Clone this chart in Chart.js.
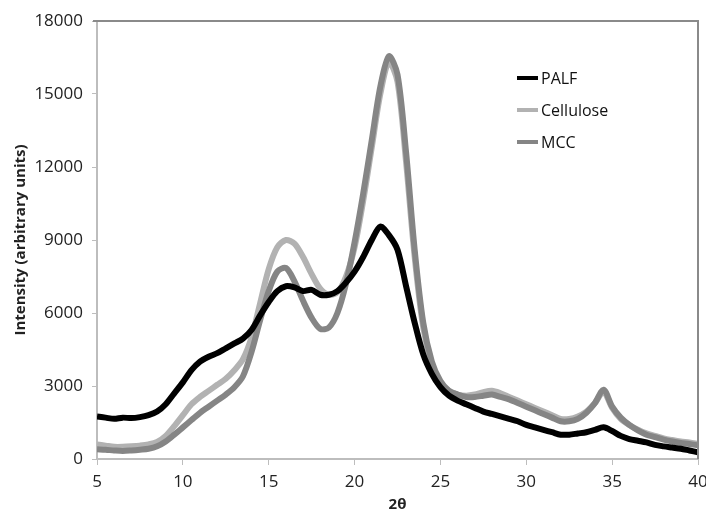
<!DOCTYPE html>
<html>
<head>
<meta charset="utf-8">
<script src="https://cdn.jsdelivr.net/npm/chart.js@4.4.0/dist/chart.umd.min.js"></script>
<style>
  html, body { margin: 0; padding: 0; background: #fff; }
  #wrap { width: 706px; height: 509px; }
</style>
</head>
<body>
<div id="wrap"><canvas id="xrd-chart"></canvas></div>
<script>
// 2-theta positions, one value every 0.5 degree from 5 to 40
var twoTheta = [
  5, 5.5, 6, 6.5, 7, 7.5, 8, 8.5, 9, 9.5, 10, 10.5, 11, 11.5, 12, 12.5, 13, 13.5, 14, 14.5,
  15, 15.5, 16, 16.5, 17, 17.5, 18, 18.5, 19, 19.5, 20, 20.5, 21, 21.5, 22, 22.5, 23, 23.5, 24, 24.5,
  25, 25.5, 26, 26.5, 27, 27.5, 28, 28.5, 29, 29.5, 30, 30.5, 31, 31.5, 32, 32.5, 33, 33.5, 34, 34.5,
  35, 35.5, 36, 36.5, 37, 37.5, 38, 38.5, 39, 39.5, 40
];

var palf = [
  1750, 1700, 1650, 1700, 1680, 1720, 1800, 1950, 2250, 2700, 3150, 3650, 4000, 4200, 4350, 4550, 4750, 4950, 5300, 5900,
  6450, 6900, 7100, 7050, 6900, 6950, 6750, 6750, 6900, 7250, 7700, 8300, 9000, 9550, 9200, 8600, 7100, 5600, 4300, 3500,
  2950, 2600, 2400, 2250, 2100, 1950, 1850, 1750, 1650, 1550, 1400, 1300, 1200, 1100, 1000, 1000, 1050, 1100, 1200, 1300,
  1150, 950, 820, 750, 680, 580, 520, 470, 420, 350, 280
];

var cellulose = [
  600, 550, 500, 500, 520, 550, 600, 700, 950, 1350, 1800, 2250, 2550, 2800, 3050, 3300, 3650, 4100, 5000, 6400,
  7800, 8700, 9000, 8850, 8300, 7600, 7000, 6750, 6850, 7500, 8700, 10600, 12800, 15000, 16300, 15500, 12200, 8300, 5400, 3900,
  3100, 2800, 2650, 2600, 2650, 2750, 2800, 2700, 2550, 2400, 2250, 2100, 1950, 1800, 1650, 1650, 1750, 1950, 2300, 2750,
  2100, 1650, 1400, 1200, 1050, 950, 850, 780, 720, 680, 620
];

var mcc = [
  400, 380, 350, 330, 350, 380, 420, 520, 720, 1000, 1300, 1600, 1900, 2150, 2400, 2650, 2950, 3400, 4400, 5700,
  6900, 7700, 7850, 7300, 6500, 5800, 5350, 5400, 6000, 7200, 8900, 10900, 13100, 15300, 16550, 15800, 12600, 8600, 5600, 4000,
  3200, 2800, 2650, 2550, 2550, 2600, 2650, 2550, 2450, 2300, 2150, 2000, 1850, 1700, 1550, 1550, 1650, 1900, 2300, 2850,
  2150, 1700, 1400, 1180, 1000, 900, 800, 720, 660, 620, 560
];

var seriesNames = ['PALF', 'Cellulose', 'MCC'];
var seriesColors = ['#000000', '#b2b2b2', '#858585'];
var xTicks = [5, 10, 15, 20, 25, 30, 35, 40];
var yTicks = [0, 3000, 6000, 9000, 12000, 15000, 18000];

var fontFamily = '"Open Sans", "Liberation Sans", sans-serif';

function toPoints(values) {
    return values.map(function(v, i) { return { x: twoTheta[i], y: v }; });
}

function plainLabel(value) {
    return String(value);
}

// frame on the top and right of the plot, like the spreadsheet original
var framePlugin = {
    id: 'frame',
    afterDraw: function(chart) {
        var a = chart.chartArea;
        var ctx = chart.ctx;
        ctx.save();
        ctx.strokeStyle = '#8a8a8a';
        ctx.lineWidth = 2;
        ctx.beginPath();
        ctx.moveTo(a.left - 4, a.top);
        ctx.lineTo(a.right, a.top);
        ctx.lineTo(a.right, a.bottom);
        ctx.stroke();
        ctx.restore();
    }
};

// legend drawn inside the plot area
var insideLegend = {
    id: 'insideLegend',
    afterDraw: function(chart) {
        var a = chart.chartArea;
        var ctx = chart.ctx;
        var x0 = a.left + 420;
        var y0 = a.top + 57;
        ctx.save();
        ctx.font = '16px ' + fontFamily;
        ctx.textBaseline = 'middle';
        chart.data.datasets.forEach(function(ds, i) {
            var y = y0 + i * 32;
            ctx.strokeStyle = ds.borderColor;
            ctx.lineWidth = 4;
            ctx.beginPath();
            ctx.moveTo(x0, y);
            ctx.lineTo(x0 + 21, y);
            ctx.stroke();
            ctx.fillStyle = '#111';
            ctx.fillText(ds.label, x0 + 24, y + 1);
        });
        ctx.restore();
    }
};

var ctx = document.getElementById('xrd-chart').getContext('2d');
new Chart(ctx, {
    type: 'line',
    data: {
        datasets: [
            { label: seriesNames[0], data: toPoints(palf), borderColor: seriesColors[0], order: 0 },
            { label: seriesNames[1], data: toPoints(cellulose), borderColor: seriesColors[1], order: 2 },
            { label: seriesNames[2], data: toPoints(mcc), borderColor: seriesColors[2], order: 1 }
        ]
    },
    options: {
        responsive: true,
        maintainAspectRatio: false,
        animation: false,
        layout: { padding: { top: 21, right: 8, left: 0, bottom: 0 } },
        datasets: {
            line: {
                borderWidth: 6,
                pointRadius: 0,
                tension: 0.3,
                fill: false
            }
        },
        plugins: {
            legend: { display: false },
            tooltip: { enabled: false }
        },
        scales: {
            x: {
                type: 'linear',
                min: 5,
                max: 40,
                afterBuildTicks: function(scale) {
                    scale.ticks = xTicks.map(function(v) { return { value: v }; });
                },
                afterFit: function(scale) {
                    scale.height = 50;
                    scale.paddingLeft = 0;
                    scale.paddingRight = 0;
                },
                ticks: {
                    color: '#222',
                    font: { family: fontFamily, size: 17 },
                    padding: 7,
                    callback: plainLabel
                },
                grid: { drawOnChartArea: false, color: '#bdbdbd', tickLength: 6 },
                border: { color: '#bdbdbd', width: 2 },
                title: {
                    display: true,
                    text: '2θ',
                    color: '#222',
                    font: { family: fontFamily, size: 15, weight: 'bold' },
                    padding: { top: -4, bottom: -5 }
                }
            },
            y: {
                min: 0,
                max: 18000,
                afterBuildTicks: function(scale) {
                    scale.ticks = yTicks.map(function(v) { return { value: v }; });
                },
                afterFit: function(scale) { scale.width = 97; },
                ticks: {
                    color: '#222',
                    font: { family: fontFamily, size: 17 },
                    padding: 9,
                    callback: plainLabel
                },
                grid: { drawOnChartArea: false, color: '#bdbdbd', tickLength: 5 },
                border: { color: '#bdbdbd', width: 2 },
                title: {
                    display: true,
                    text: 'Intensity (arbitrary units)',
                    color: '#222',
                    font: { family: fontFamily, size: 15, weight: 'bold' },
                    padding: { top: 12, bottom: 4 }
                }
            }
        }
    },
    plugins: [framePlugin, insideLegend]
});
</script>
</body>
</html>
